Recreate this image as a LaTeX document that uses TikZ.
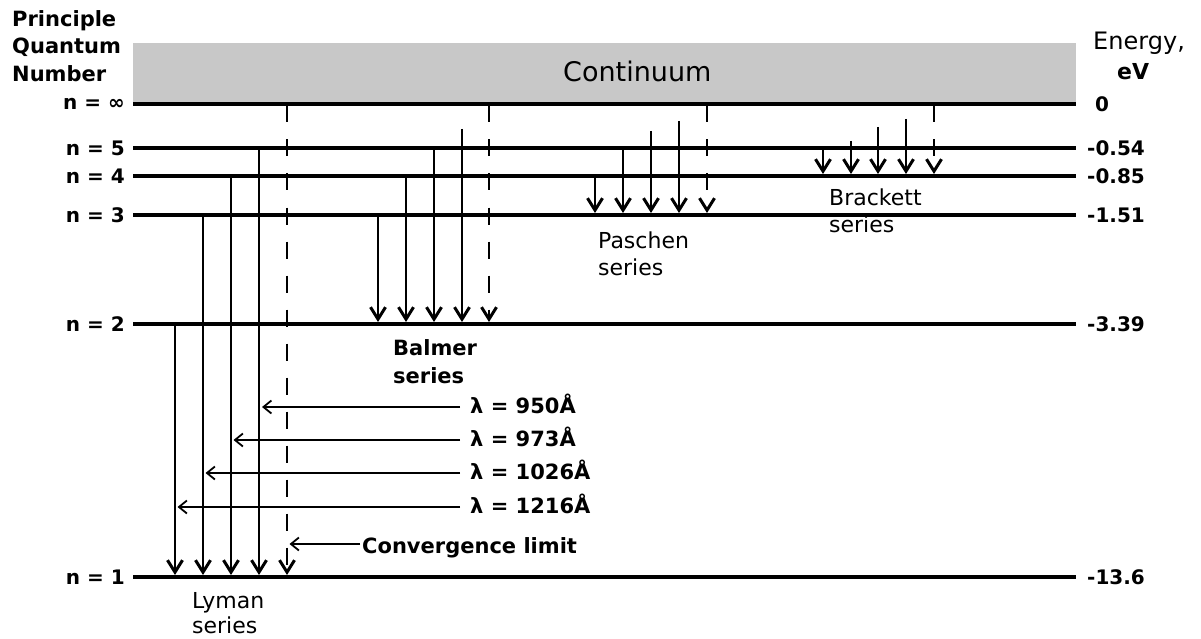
\documentclass[tikz,border=0pt]{standalone}
\usepackage{fontspec}
\setmainfont{DejaVu Sans}
\usetikzlibrary{arrows.meta}
\definecolor{contgray}{RGB}{200,200,200}
\begin{document}
\begin{tikzpicture}[x=1pt,y=-1pt,
  levelline/.style={line width=3.3pt},
  shaft/.style={line width=1.7pt,-{Straight Barb[length=12pt,width=15pt,line width=3pt]}},
  dshaft/.style={shaft,dash pattern=on 17pt off 17pt},
  harr/.style={line width=1.5pt,-{Straight Barb[length=8pt,width=13pt,line width=1.8pt]}},
  nlab/.style={inner sep=0pt,anchor=east,font=\fontsize{20}{24}\selectfont\bfseries},
  elab/.style={inner sep=0pt,anchor=west,font=\fontsize{20}{24}\selectfont\bfseries},
  head/.style={inner sep=0pt,anchor=base west,font=\fontsize{21}{25}\selectfont\bfseries},
  serreg/.style={inner sep=0pt,anchor=base west,font=\fontsize{22}{26}\selectfont},
  serbold/.style={inner sep=0pt,anchor=base west,font=\fontsize{21}{25}\selectfont\bfseries},
  lam/.style={inner sep=0pt,anchor=base west,font=\fontsize{21}{25}\selectfont\bfseries}
]
\useasboundingbox (0,0) rectangle (1201,639);

% continuum box
\fill[contgray] (133,43) rectangle (1076,104);
\node[inner sep=0pt,anchor=base west,font=\fontsize{27}{32}\selectfont] (cont) at (563,82) {Continuum};

% levels
\foreach \n/\y in {inf/104,5/148,4/176,3/215,2/324,1/577}{
  \coordinate (L\n w) at (133,\y);
  \coordinate (L\n e) at (1076,\y);
  \draw[levelline] (L\n w) -- (L\n e);
}

% left labels
\node[head] (h1) at (12,27) {Principle};
\node[head] (h2) at (12,54) {Quantum};
\node[head] (h3) at (12,82) {Number};
\node[nlab] (ninf) at (125,104) {n = ∞};
\node[nlab] (n5) at (125,148) {n = 5};
\node[nlab] (n4) at (125,176) {n = 4};
\node[nlab] (n3) at (125,215) {n = 3};
\node[nlab] (n2) at (125,324) {n = 2};
\node[nlab] (n1) at (125,577) {n = 1};

% right labels
\node[inner sep=0pt,anchor=base west,font=\fontsize{24}{28}\selectfont] (en) at (1093,50) {Energy,};
\node[inner sep=0pt,anchor=base west,font=\fontsize{22}{26}\selectfont\bfseries] (ev) at (1117,80) {eV};
\node[elab] (e0) at (1095,104) {0};
\node[elab] (e5) at (1087,148) {-0.54};
\node[elab] (e4) at (1087,176) {-0.85};
\node[elab] (e3) at (1087,215) {-1.51};
\node[elab] (e2) at (1087,324) {-3.39};
\node[elab] (e1) at (1087,577) {-13.6};

% Lyman series
\draw[shaft] (175,325.5) -- (175,575);
\draw[shaft] (203,216.5) -- (203,575);
\draw[shaft] (231,177.5) -- (231,575);
\draw[shaft] (259,149.5) -- (259,575);
\draw[dshaft] (287,105.5) -- (287,575);
% Balmer series
\draw[shaft] (378,216.5) -- (378,322);
\draw[shaft] (406,177.5) -- (406,322);
\draw[shaft] (434,149.5) -- (434,322);
\draw[shaft] (462,129) -- (462,322);
\draw[dshaft] (489,105.5) -- (489,322);
% Paschen series
\draw[shaft] (595,177.5) -- (595,213);
\draw[shaft] (623,149.5) -- (623,213);
\draw[shaft] (651,131) -- (651,213);
\draw[shaft] (679,121) -- (679,213);
\draw[dshaft] (707,105.5) -- (707,213);
% Brackett series
\draw[shaft] (823,149.5) -- (823,174);
\draw[shaft] (851,141) -- (851,174);
\draw[shaft] (878,127) -- (878,174);
\draw[shaft] (906,119) -- (906,174);
\draw[dshaft] (934,105.5) -- (934,174);

% series labels
\node[serreg] (ly1) at (192,608) {Lyman};
\node[serreg] (ly2) at (192,633) {series};
\node[serbold] (ba1) at (393,355) {Balmer};
\node[serbold] (ba2) at (393,383) {series};
\node[serreg] (pa1) at (598,248) {Paschen};
\node[serreg] (pa2) at (598,275) {series};
\node[serreg] (br1) at (829,205) {Brackett};
\node[serreg] (br2) at (829,232) {series};

% wavelengths
\node[lam] (l950) at (470,413) {λ = 950Å};
\node[lam] (l973) at (470,446) {λ = 973Å};
\node[lam] (l1026) at (470,479) {λ = 1026Å};
\node[lam] (l1216) at (470,513) {λ = 1216Å};
\draw[harr] ([xshift=-10pt,yshift=6pt]l950.base west) -- (262,407);
\draw[harr] ([xshift=-10pt,yshift=6pt]l973.base west) -- (233.5,440);
\draw[harr] ([xshift=-10pt,yshift=6pt]l1026.base west) -- (205.5,473);
\draw[harr] ([xshift=-10pt,yshift=6pt]l1216.base west) -- (177.5,507);

% convergence limit
\node[inner sep=0pt,anchor=base west,font=\fontsize{21}{25}\selectfont\bfseries] (conv) at (362,553) {Convergence limit};
\draw[harr] ([xshift=-2pt,yshift=9pt]conv.base west) -- (289.5,544);
\end{tikzpicture}
\end{document}
